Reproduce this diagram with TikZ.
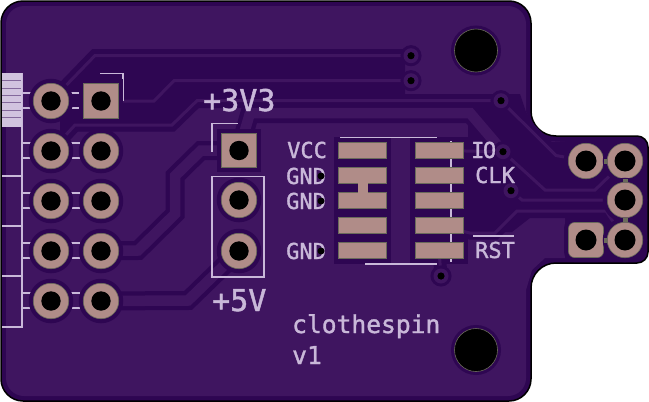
\documentclass[tikz,border=0pt]{standalone}
\usepackage{fontspec}
\setmainfont[FakeBold=1.4]{DejaVu Sans Mono}
\usetikzlibrary{positioning}
\definecolor{pourlight}{HTML}{3F1560}
\definecolor{pourdark}{HTML}{2E0652}
\definecolor{silk}{HTML}{C9B8D9}
\definecolor{padfill}{HTML}{B08C88}
\definecolor{padedge}{HTML}{6A6A5A}
\pgfdeclarelayer{copper}
\pgfsetlayers{copper,main}
\tikzset{
	thtpad/.style={circle,draw=padedge,fill=padfill,line width=0.6pt,inner sep=0pt,minimum size=35.5pt,
		preaction={draw=pourdark,line width=9pt},
		path picture={\fill[black](path picture bounding box.center)circle(9.7pt);}},
	squarepad/.style={thtpad,rectangle,minimum size=34.5pt},
	roundpad/.style={thtpad,rectangle,rounded corners=6pt,minimum size=35pt,
		path picture={\fill[black](path picture bounding box.center)circle(10.5pt);}},
	plugpad/.style={thtpad,path picture={\fill[black](path picture bounding box.center)circle(10.5pt);}},
	smdpad/.style={rectangle,draw=padedge,fill=padfill,line width=0.8pt,inner sep=0pt,minimum width=48pt,minimum height=16.5pt},
	viahole/.style={circle,fill=pourlight,inner sep=0pt,minimum size=15pt,
		preaction={draw=pourdark,line width=6pt},
		path picture={\fill[black](path picture bounding box.center)circle(3.6pt);}},
	mounthole/.style={circle,draw=padedge,fill=black,line width=0.6pt,inner sep=0pt,minimum size=43pt,
		preaction={draw=pourdark,line width=7pt}},
	textdot/.style={circle,fill=black,inner sep=0pt,minimum size=7pt},
	thintrace/.style={draw=pourlight,line width=3pt,line join=miter,preaction={draw=pourdark,line width=13pt}},
	widetrace/.style={draw=pourlight,line width=10.5pt,line join=miter,preaction={draw=pourdark,line width=19pt}},
	padlink/.style={draw=padedge,line width=5pt},
	silkline/.style={draw=silk,line width=1.4pt},
	silktext/.style={text=silk,inner sep=0pt,anchor=base west},
	netlabel/.style={silktext,font=\fontsize{22}{22}\selectfont},
	bigpower/.style={silktext,font=\fontsize{30}{30}\selectfont},
	boardtext/.style={silktext,font=\fontsize{24.6}{25}\selectfont},
}
\begin{document}
\begin{tikzpicture}[x=1pt,y=-1pt]
	\useasboundingbox (0,0) rectangle (649,402);
	% silk under the pads
	\draw[silkline](22,73)--(22,327)--(2,327);
	\fill[silk!85!white](2,73)rectangle(22,127);
	\draw[pourdark!45!silk,line width=0.7pt](2,80.5)--(21,80.5);
	\draw[pourdark!45!silk,line width=0.7pt](2,88)--(21,88);
	\draw[pourdark!45!silk,line width=0.7pt](2,95)--(21,95);
	\draw[pourdark!45!silk,line width=0.7pt](2,102.5)--(21,102.5);
	\draw[pourdark!45!silk,line width=0.7pt](2,110)--(21,110);
	\draw[pourdark!45!silk,line width=0.7pt](2,117)--(21,117);
	\draw[silkline](2,176)--(22,176);
	\draw[silkline](2,226)--(22,226);
	\draw[silkline](2,276)--(22,276);
	\foreach \ya in {93,108,143,158,193,208,243,258,293,308}{
		\draw[silkline](22,\ya)--(31,\ya);
		\draw[silkline](71,\ya)--(80,\ya);
	}
	\draw[silkline](100,73.5)--(123,73.5)--(123,101);
	\draw[silkline](212,152)--(212,123.5)--(238,123.5);
	\draw[silkline](212,176.5)rectangle(264,277);
	\draw[silkline](340,137.5)--(437,137.5);
	\draw[silkline](365,264)--(437,264);
	\draw[silkline](451,141)--(451,262);
	\draw[silkline](473,236)--(514,236);
	% vias and holes
	\node[viahole](via a) at (411,55.7){};
	\node[viahole](via b) at (411,80.7){};
	\node[viahole](via c) at (501,100.7){};
	\node[viahole](via d) at (503,151.7){};
	\node[viahole](via e) at (511,190.7){};
	\node[viahole](via f) at (441,276){};
	\node[mounthole](holea) at (476,50.5){};
	\node[mounthole](holeb) at (476,350){};
	% text
	\node[bigpower](lblthree) at (203,111){+3V3};
	\node[bigpower](lblfive) at (212,311){+5V};
	\node[boardtext](lblname) at (292,333){clothespin};
	\node[boardtext](lblrev) at (292,364){v1};
	\node[netlabel](lblvcc) at (287,158){VCC};
	\node[netlabel](lblgnda) at (286,184){GND};
	\node[netlabel](lblgndb) at (286,209){GND};
	\node[netlabel](lblgndc) at (286,259){GND};
	\node[netlabel](lblio) at (471,158){I\hspace{-1.5pt}O};
	\node[netlabel](lblclk) at (475,183){CLK};
	\node[netlabel](lblrst) at (475,258){RST};
	\node[textdot](dota) at (321,176){};
	\node[textdot](dotb) at (321,201){};
	\node[textdot](dotc) at (321,251){};
	% left connector
	\node[thtpad](la) at (51,101){};
	\node[squarepad](ra) at (101,101){};
	\node[thtpad](lb) at (51,151){};
	\node[thtpad](rb) at (101,151){};
	\node[thtpad](lc) at (51,201){};
	\node[thtpad](rc) at (101,201){};
	\node[thtpad](ld) at (51,251){};
	\node[thtpad](rd) at (101,251){};
	\node[thtpad](le) at (51,301){};
	\node[thtpad](re) at (101,301){};
	% power pins
	\node[squarepad](pthree) at (239,150.5){};
	\node[thtpad](pfivea) at (239,200){};
	\node[thtpad](pfiveb) at (239,251){};
	% chip
	\node[smdpad](ua) at (362.5,150.5){};
	\node[smdpad](ub) at (362.5,175.5){};
	\node[smdpad](uc) at (362.5,200.5){};
	\node[smdpad](ud) at (362.5,225.5){};
	\node[smdpad](ue) at (362.5,250.5){};
	\node[smdpad](uf) at (439,150.5){};
	\node[smdpad](ug) at (439,175.5){};
	\node[smdpad](uh) at (439,200.5){};
	\node[smdpad](ui) at (439,225.5){};
	\node[smdpad](uj) at (439,250.5){};
	% plug end
	\node[plugpad](ca) at (586,161){};
	\node[plugpad](cb) at (625,161){};
	\node[plugpad](cc) at (625,200){};
	\node[roundpad](cd) at (586,240){};
	\node[plugpad](ce) at (625,240){};
	\draw[padlink](ca)--(cb);
	\draw[padlink](cb)--(cc);
	\draw[padlink](cc)--(ce);
	\draw[padlink](cd)--(ce);
	\begin{pgfonlayer}{copper}
		% board and pour
		\filldraw[fill=pourdark,draw=black,line width=1.5pt](1,100)[rounded corners=22pt]--(1,1)--(531,1)--(531,60)
			[rounded corners=25pt]--(531,136)--(600,136)[rounded corners=11pt]--(648,136)--(648,263)--(600,263)
			[rounded corners=25pt]--(531,263)--(531,340)[rounded corners=22pt]--(531,401)--(1,401)--(1,300)[sharp corners]--cycle;
		\fill[pourlight](6,100)[rounded corners=18pt]--(6,6)--(526,6)--(526,60)[sharp corners]--(526,112)--(534,128)--(545,141)--(565,142)
			--(565,258)--(545,258)--(532,270)--(526,290)--(526,340)[rounded corners=18pt]--(526,396)--(6,396)--(6,300)[sharp corners]--cycle;
		% empty copper areas
		\fill[pourdark](95,49)--(405,49)--(405,94)--(520,94)--(526,112)--(545,142)--(570,142)--(570,218)--(530,218)--(512,232)--(468,232)
			--(468,123)--(245,123)--(245,108)--(197,108)--(172,131)--(78,131)--(60,150)--(60,85)--cycle;
		\fill[pourdark](334,137)rectangle(391,264);
		\fill[pourdark](410,137)rectangle(468,264);
		\fill[pourdark](79,79)rectangle(124,123);
		% traces
		\draw[thintrace](la.center)--(95,55.5)--(via a.center);
		\draw[thintrace](ra.center)--(154,101)--(174,80.7)--(via b.center);
		\draw[thintrace](lb.center)--(75,125)--(172,125)--(197,100.7)--(via c.center);
		\draw[widetrace](rd.center)--(138,250.5)--(175,214)--(175,176)--(201,150.5)--(pthree.center);
		\draw[widetrace](re.center)--(188,300.5)--(pfiveb.center);
		\draw[widetrace](pthree.center)--(250,113)--(470,113)--(via d.center);
		\draw[thintrace](via c.center)--(556,155.5)--(ca.center);
		\draw[thintrace](via d.center)--(545,190)--(595,190)--(cb.center);
		\draw[thintrace](via e.center)--(522,200)--(cc.center);
		\draw[thintrace](ui.center)--(470,233)--(495,233)--(517,211)--(606,211)--(ce.center);
		\draw[thintrace](uj.center)--(via f.center);
		\draw[thintrace](uf.center)--(via d.center);
	\end{pgfonlayer}
	\fill[padfill](357.5,183)rectangle(367.5,193);
\end{tikzpicture}
\end{document}
